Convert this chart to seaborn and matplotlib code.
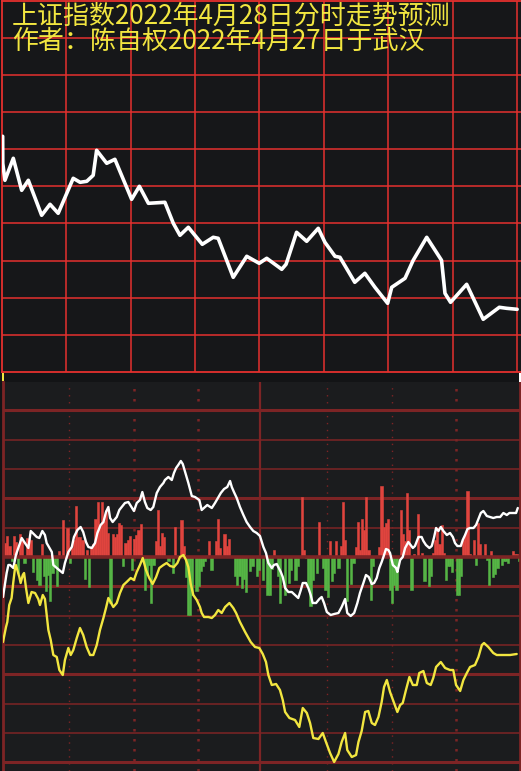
import numpy as np
import pandas as pd
import matplotlib
matplotlib.use('Agg')
import matplotlib.pyplot as plt
from matplotlib.patches import Rectangle
import seaborn as sns

# ---- data ----
title1 = '上证指数2022年4月28日分时走势预测'
title2 = '作者：陈自权2022年4月27日于武汉'

# upper panel: forecast price line (minute, relative points)
price_pts = [(0.45, 50), (0.5, 23), (1.5, 6), (5.4, 28), (9.3, -4), (12.4, 6),
             (18.6, -29), (22.5, -18), (26.3, -27), (33.3, 8), (36.5, 4),
             (39.6, 5), (42.6, 11), (44.2, 36), (48.9, 23), (52.7, 27),
             (60.5, -13), (64.1, 0), (68.3, -17), (76.0, -16), (79.9, -37),
             (83.0, -49), (86.9, -41), (93.4, -58), (98.5, -51), (100.8, -52),
             (107.8, -91), (114.1, -70), (119.9, -77), (123.4, -72),
             (130.4, -83), (132.4, -78), (137.3, -46), (142.0, -55),
             (147.4, -42), (150.5, -56), (155.2, -70), (157.5, -71),
             (164.4, -96), (169.1, -87), (173.8, -101), (179.7, -117),
             (181.6, -101), (187.8, -92), (191.6, -74), (197.9, -51),
             (204.8, -74), (206.4, -107), (209.0, -116), (216.5, -98),
             (224.2, -133), (231.7, -121), (235.1, -122), (240.0, -123)]

# lower panel: per-minute bars (red up / green down)
bar_pts = [(0, 11), (1, 14), (2, 21), (3, 11), (4, -4), (5, 21), (6, 15),
           (7, -16), (8, 23), (9, 17), (10, -6), (11, 19), (12, 18), (13, 17),
           (14, -15), (16, -23), (17, -28), (18, 13), (19, -19), (20, -34),
           (21, -18), (22, -44), (23, -16), (24, -9), (25, -29), (26, 6),
           (28, 37), (30, 29), (31, -6), (32, 9), (33, 17), (34, 51), (35, 20),
           (36, 20), (37, 17), (38, -22), (39, 7), (40, -30), (41, 10),
           (42, 13), (43, 38), (44, 55), (45, 30), (46, 55), (47, 36),
           (48, 47), (49, 24), (50, -46), (51, 23), (52, 20), (53, 23),
           (54, 34), (55, 32), (56, -9), (57, 14), (58, 17), (59, 21),
           (60, -13), (61, 18), (62, 22), (63, 27), (64, 33), (66, -33),
           (67, -18), (68, -8), (69, -46), (70, -8), (71, 16), (72, 47),
           (73, 11), (74, 24), (75, 20), (77, -4), (79, -16), (80, 30),
           (83, 37), (84, 11), (85, -20), (86, -58), (87, -58), (88, -38),
           (90, -34), (91, -29), (92, -14), (93, -9), (94, -4), (96, 16),
           (97, -13), (99, 16), (100, 38), (101, 9), (103, 23), (104, 11),
           (105, 18), (108, -19), (109, -28), (110, -19), (111, -31),
           (112, -22), (113, -35), (115, -14), (116, -9), (118, -19),
           (119, -13), (121, -23), (123, -38), (124, -38), (125, -12),
           (126, 7), (128, -19), (129, -46), (131, -38), (133, -26),
           (134, -13), (136, -23), (137, -9), (139, 60), (140, 7), (141, -1),
           (142, -29), (143, -49), (144, -23), (146, -16), (147, 35),
           (149, -11), (150, -33), (151, -40), (152, 16), (153, -24),
           (154, -16), (155, 16), (156, -11), (157, 11), (158, 55), (159, 17),
           (160, -44), (162, -27), (163, -6), (164, 10), (165, 35), (166, 7),
           (167, 38), (168, 27), (169, 60), (170, 7), (171, -43), (172, -9),
           (175, 10), (176, 71), (177, 30), (178, 34), (179, 38), (180, -33),
           (181, -46), (182, -28), (183, -33), (185, 47), (186, 23), (187, 16),
           (188, 64), (189, 27), (190, -33), (191, 3), (193, 43), (195, 4),
           (196, -24), (198, -29), (199, -19), (200, 4), (201, 17), (202, 29),
           (203, 13), (204, 32), (205, 4), (206, -23), (207, -9), (208, -9),
           (209, -15), (211, -38), (212, -38), (213, -19), (214, 17),
           (215, 23), (216, 66), (217, 3), (219, 17), (220, -8), (221, 34),
           (222, 13), (224, 13), (225, -3), (226, -28), (227, 6), (228, -20),
           (229, -17), (230, -11), (232, -8), (233, -4), (234, -4), (235, -6),
           (237, 6), (238, 3), (239, 3), (240, -4)]

# lower panel: white line (minute, value)
white_pts = [(0, -40), (1.7, -16), (2.5, -8), (3.3, -8), (4.8, -11), (6.0, 2),
             (8.7, 19), (10.2, 14), (11.8, 9), (12.9, 26), (15.7, 20),
             (16.9, 19), (18.3, 26), (19.5, 22), (20.3, 14), (22.7, 5),
             (23.4, -8), (25.0, -11), (27.8, -16), (28.8, -6), (30.4, 5),
             (32.0, 10), (33.0, 20), (34.6, 27), (36.1, 30), (37.3, 25),
             (38.6, 15), (39.7, 10), (41.3, 9), (42.8, 14), (43.9, 24),
             (45.4, 32), (46.7, 35), (47.9, 45), (49.0, 50), (49.8, 39),
             (51.0, 35), (52.9, 40), (54.1, 47), (55.2, 50), (56.7, 54),
             (58.3, 55), (60.9, 46), (62.2, 54), (63.7, 57), (64.8, 65),
             (66.0, 55), (67.1, 49), (68.7, 47), (69.9, 50), (71.5, 64),
             (73.0, 70), (74.6, 74), (75.3, 77), (76.9, 80), (78.5, 77),
             (79.5, 84), (80.5, 89), (81.5, 92), (82.7, 96), (83.6, 93),
             (84.7, 85), (86.2, 74), (87.8, 61), (89.3, 60), (91.3, 57),
             (92.4, 47), (94.0, 50), (95.0, 52), (97.1, 49), (98.6, 54),
             (99.7, 58), (101.3, 64), (102.8, 68), (104.3, 70), (105.6, 76),
             (106.4, 70), (107.4, 65), (108.7, 59), (110.2, 50), (111.8, 42),
             (113.3, 35), (114.9, 30), (116.4, 26), (118.0, 24), (119.5, 21),
             (121.1, 10), (122.3, 4), (123.4, -6), (125.0, -11), (126.0, -8),
             (127.3, -7), (129.2, -15), (130.1, -20), (131.2, -31),
             (132.7, -35), (134.3, -35), (135.8, -38), (137.3, -41),
             (138.5, -33), (139.4, -26), (140.9, -26), (142.0, -31),
             (143.1, -38), (144.0, -46), (145.6, -46), (147.1, -42),
             (148.2, -40), (149.3, -46), (150.6, -55), (152.4, -58),
             (154.0, -57), (156.0, -56), (157.5, -50), (159.1, -42),
             (160.1, -56), (161.7, -59), (163.3, -56), (164.8, -46),
             (166.0, -36), (167.6, -26), (168.8, -18), (170.1, -20),
             (171.5, -27), (172.6, -26), (173.8, -21), (175.0, -11),
             (176.1, -5), (176.9, 0), (178.1, 8), (179.2, 7), (180.0, 4),
             (181.3, -8), (182.8, -11), (183.4, -15), (184.7, -3), (185.9, 0),
             (187.0, 9), (188.5, 15), (190.6, 9), (191.6, 11), (193.2, 20),
             (194.7, 20), (195.5, 16), (196.7, 12), (198.3, 9), (199.4, 11),
             (200.5, 20), (201.4, 29), (202.5, 26), (203.6, 30), (204.8, 26),
             (206.4, 22), (207.9, 24), (209.2, 20), (210.2, 14), (211.3, 11),
             (212.9, 11), (213.8, 17), (214.9, 22), (216.0, 28), (217.2, 29),
             (218.8, 29), (220.0, 32), (221.1, 38), (222.2, 44), (223.4, 46),
             (225.0, 41), (226.5, 40), (228.0, 39), (229.6, 40), (231.2, 40),
             (232.7, 44), (234.3, 42), (235.5, 44), (237.4, 44), (238.6, 44),
             (239.4, 49)]

# lower panel: yellow line (minute, value)
yellow_pts = [(0, -85), (1.4, -70), (2.0, -65), (2.9, -48), (4.0, -41),
              (4.8, -25), (5.6, -11), (6.0, -8), (7.6, -20), (8.2, -26),
              (9.2, -18), (9.8, -16), (10.7, -31), (11.8, -46), (13.3, -35),
              (14.9, -36), (16.4, -42), (17.2, -48), (18.5, -38), (19.5, -42),
              (20.6, -63), (21.1, -73), (22.2, -83), (23.4, -98), (25.0, -100),
              (26.2, -113), (27.8, -118), (28.8, -103), (30.4, -91),
              (31.5, -98), (32.7, -93), (34.3, -81), (35.8, -71), (37.3, -78),
              (38.9, -90), (40.5, -98), (42.0, -98), (43.6, -88), (45.1, -73),
              (46.7, -61), (47.9, -51), (49.0, -41), (51.3, -50), (52.9, -46),
              (54.4, -36), (56.0, -28), (57.5, -25), (59.4, -21), (60.9, -23),
              (62.2, -15), (63.7, -8), (65.0, -1), (66.5, -13), (68.0, -21),
              (69.6, -27), (71.2, -20), (72.7, -11), (74.6, -8), (76.1, -6),
              (77.7, -9), (79.5, -10), (81.1, -6), (82.3, 0), (83.9, 2),
              (85.1, -3), (86.2, -10), (87.3, -27), (88.5, -38), (90.1, -43),
              (91.6, -50), (92.4, -56), (93.5, -60), (95.5, -60), (97.1, -61),
              (98.6, -58), (100.1, -53), (101.7, -56), (103.3, -50),
              (105.3, -46), (107.1, -51), (108.4, -56), (110.2, -65),
              (112.6, -75), (115.2, -85), (117.2, -90), (119.2, -91),
              (120.8, -97), (122.3, -105), (123.4, -118), (125.0, -128),
              (127.0, -127), (128.8, -133), (130.1, -143), (131.2, -155),
              (133.2, -161), (135.8, -163), (137.8, -170), (139.4, -151),
              (141.3, -156), (142.8, -166), (144.3, -181), (146.7, -182),
              (148.7, -176), (150.2, -185), (152.1, -196), (154.0, -205),
              (156.0, -197), (157.5, -185), (159.1, -176), (160.1, -193),
              (162.2, -200), (164.2, -198), (165.3, -185), (166.8, -174),
              (168.4, -155), (169.9, -154), (171.5, -166), (173.0, -168),
              (174.6, -160), (176.1, -145), (177.2, -130), (178.5, -123),
              (180.0, -135), (181.9, -146), (183.4, -155), (184.7, -148),
              (185.9, -146), (187.4, -133), (189.0, -120), (190.6, -128),
              (192.4, -128), (193.6, -116), (195.5, -114), (197.1, -126),
              (198.9, -128), (200.1, -121), (201.4, -110), (203.6, -105),
              (205.6, -111), (207.9, -113), (209.4, -113), (210.7, -128),
              (212.6, -134), (214.1, -123), (215.7, -116), (217.2, -110),
              (219.5, -108), (221.1, -100), (222.7, -88), (223.7, -86),
              (225.7, -90), (228.0, -96), (229.6, -98), (232.7, -98),
              (235.8, -98), (238.9, -97)]

# ---- style ----
BG_TOP = '#161719'
BG_BOT = '#1b1c1e'
BG_FIG = '#131416'
RED = '#e5302e'
DARKRED = '#7d2425'
YELLOW = '#f2e640'
BAR_UP = '#e0443e'
BAR_DN = '#55b545'

sns.set_style('dark', {'axes.facecolor': BG_TOP, 'figure.facecolor': BG_FIG})
plt.rcParams['font.family'] = ['Noto Sans CJK SC', 'DejaVu Sans']

W, H = 521, 771
fig = plt.figure(figsize=(W / 100, H / 100), dpi=100)
fig.patch.set_facecolor(BG_FIG)

# upper panel
ax1 = fig.add_axes([1.7 / W, (H - 372.3) / H, (W - 1.7) / W, 371.8 / H])
ax1.set_facecolor(BG_TOP)
step1 = 37.1
for k in range(-4, 5):
    ax1.axhline(k * step1, color=RED, lw=1.1, zorder=1)
for m in range(30, 241, 30):
    ax1.axvline(m, color=RED, lw=1.1, zorder=1)
price = pd.DataFrame(price_pts, columns=['minute', 'value'])
sns.lineplot(data=price, x='minute', y='value', ax=ax1, color='white',
             lw=2.6, estimator=None, sort=False, zorder=3)
ax1.set_xlim(0, 241.8)
ax1.set_ylim(-186, 185.8)
for s in ['left', 'top', 'bottom']:
    ax1.spines[s].set_visible(True)
    ax1.spines[s].set_color(RED)
    ax1.spines[s].set_linewidth(1.3)
ax1.spines['right'].set_visible(False)
ax1.set_xticks([])
ax1.set_yticks([])
ax1.set_xlabel('')
ax1.set_ylabel('')

# lower panel
ax2 = fig.add_axes([2.5 / W, 0, 517 / W, 389 / H])
ax2.set_facecolor(BG_BOT)
step2 = 29.33
for k in range(-7, 6):
    if k == 0:
        continue
    lw = 2.2 if k in (5, 2, -1, -4, -7) else 1.1
    ax2.axhline(k * step2, color=DARKRED, lw=lw, zorder=1)
for m in (30, 150, 180):
    ax2.axvline(m + 0.8, color=DARKRED, lw=1.0, ls=(0, (1, 4)), zorder=1)
for m in (60, 90, 210):
    ax2.axvline(m + 0.8, color=DARKRED, lw=1.8, ls=(0, (1, 3)), zorder=1)
ax2.axvline(119.5, color=DARKRED, lw=1.6, zorder=1)

bars = pd.DataFrame(bar_pts, columns=['minute', 'value'])
bar_colors = np.where(bars['value'] >= 0, BAR_UP, BAR_DN)
ax2.bar(bars['minute'], bars['value'], width=1.0, color=bar_colors,
        edgecolor=bar_colors, linewidth=0.4, zorder=2)
ax2.axhline(0, color=DARKRED, lw=2.6, zorder=2.5)

white = pd.DataFrame(white_pts, columns=['minute', 'value'])
sns.lineplot(data=white, x='minute', y='value', ax=ax2, color='white',
             lw=1.7, estimator=None, sort=False, zorder=4)
yellow = pd.DataFrame(yellow_pts, columns=['minute', 'value'])
sns.lineplot(data=yellow, x='minute', y='value', ax=ax2, color=YELLOW,
             lw=1.7, estimator=None, sort=False, zorder=4)

ax2.set_xlim(-0.23, 240.2)
ax2.set_ylim(-214, 175)
for s in ['top', 'bottom']:
    ax2.spines[s].set_visible(False)
for s in ['left', 'right']:
    ax2.spines[s].set_visible(True)
    ax2.spines[s].set_color(DARKRED)
    ax2.spines[s].set_linewidth(2.0)
ax2.set_xticks([])
ax2.set_yticks([])
ax2.set_xlabel('')
ax2.set_ylabel('')

# small markers in the strip between the panels
fig.add_artist(Rectangle((2 / W, (H - 381) / H), 2.2 / W, 8 / H,
                         transform=fig.transFigure, color=YELLOW, lw=0))
fig.add_artist(Rectangle((518.5 / W, (H - 382) / H), 2.5 / W, 9 / H,
                         transform=fig.transFigure, color='white', lw=0))

# titles
fig.text(12 / W, 1 - 3 / H, title1, color=YELLOW, fontsize=18.7,
         ha='left', va='top', family=['Noto Sans CJK SC', 'DejaVu Sans'])
fig.text(12 / W, 1 - 28 / H, title2, color=YELLOW, fontsize=18.7,
         ha='left', va='top', family=['Noto Sans CJK SC', 'DejaVu Sans'])

fig.savefig('out.png', dpi=100, facecolor=fig.get_facecolor())
